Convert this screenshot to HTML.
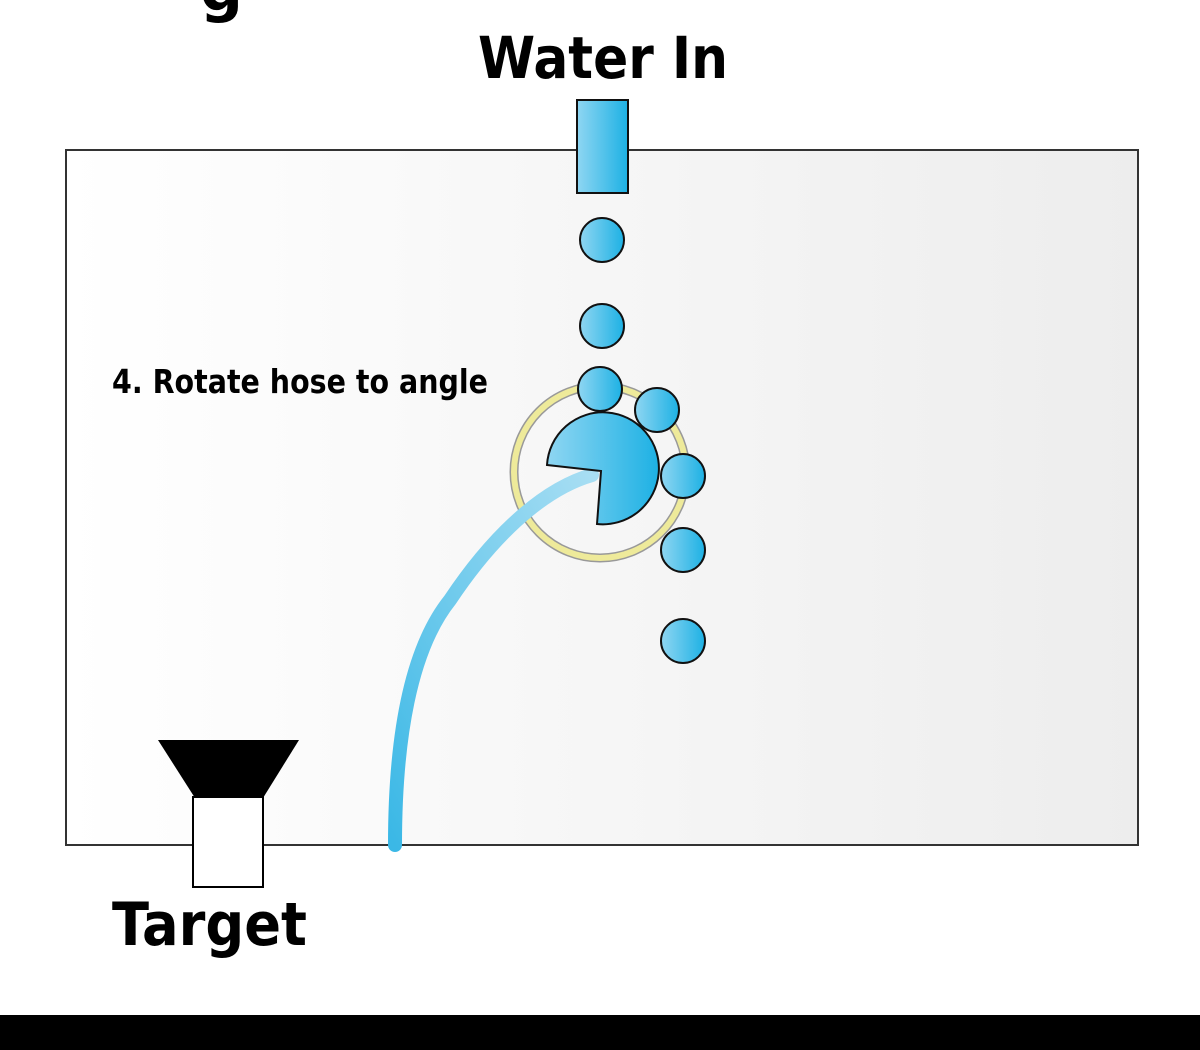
<!DOCTYPE html>
<html><head><meta charset="utf-8"><style>
html,body{margin:0;padding:0;background:#fff;}
svg{display:block;}
text{font-family:"DejaVu Sans","Liberation Sans",sans-serif;font-weight:bold;fill:#000;}
</style></head><body>
<svg width="1200" height="1050" viewBox="0 0 1200 1050">
<defs>
<linearGradient id="bg" x1="0" x2="1"><stop offset="0" stop-color="#ffffff"/><stop offset="1" stop-color="#ededed"/></linearGradient>
<linearGradient id="bl" x1="0" x2="1"><stop offset="0" stop-color="#8fd6f2"/><stop offset="1" stop-color="#1db1e4"/></linearGradient>
<linearGradient id="hose" x1="0" y1="1" x2="1" y2="0"><stop offset="0" stop-color="#3bb8e6"/><stop offset="1" stop-color="#a8def3"/></linearGradient>
</defs>
<text x="200" y="10" font-size="60">g</text>
<text x="478" y="78" font-size="58" textLength="250" lengthAdjust="spacingAndGlyphs">Water In</text>
<rect x="66" y="150" width="1072" height="695" fill="url(#bg)" stroke="#333" stroke-width="2"/>
<rect x="577" y="100" width="51" height="93" fill="url(#bl)" stroke="#111" stroke-width="2"/>
<circle cx="600" cy="472" r="86" fill="none" stroke="#999" stroke-width="9"/>
<circle cx="600" cy="472" r="86" fill="none" stroke="#eeea9a" stroke-width="6"/>
<path d="M395,845 C395,740 410,650 450,600 C490,540 540,490 592,475" fill="none" stroke="url(#hose)" stroke-width="14" stroke-linecap="round"/>
<path d="M547,465 L601,471 L597,524 A56,56 0 1 0 547,465 Z" fill="url(#bl)" stroke="#111" stroke-width="2"/>
<g stroke="#111" stroke-width="2" fill="url(#bl)">
<circle cx="602" cy="240" r="22"/>
<circle cx="602" cy="326" r="22"/>
<circle cx="600" cy="389" r="22"/>
<circle cx="657" cy="410" r="22"/>
<circle cx="683" cy="476" r="22"/>
<circle cx="683" cy="550" r="22"/>
<circle cx="683" cy="641" r="22"/>
</g>
<text x="112" y="393" font-size="33" textLength="376" lengthAdjust="spacingAndGlyphs">4. Rotate hose to angle</text>
<polygon points="158,740 299,740 263,798 195,798" fill="#000"/>
<rect x="193" y="797" width="70" height="90" fill="#fff" stroke="#000" stroke-width="2"/>
<text x="112" y="945" font-size="60" textLength="195" lengthAdjust="spacingAndGlyphs">Target</text>
<rect x="0" y="1015" width="1200" height="35" fill="#000"/>
</svg>
</body></html>
